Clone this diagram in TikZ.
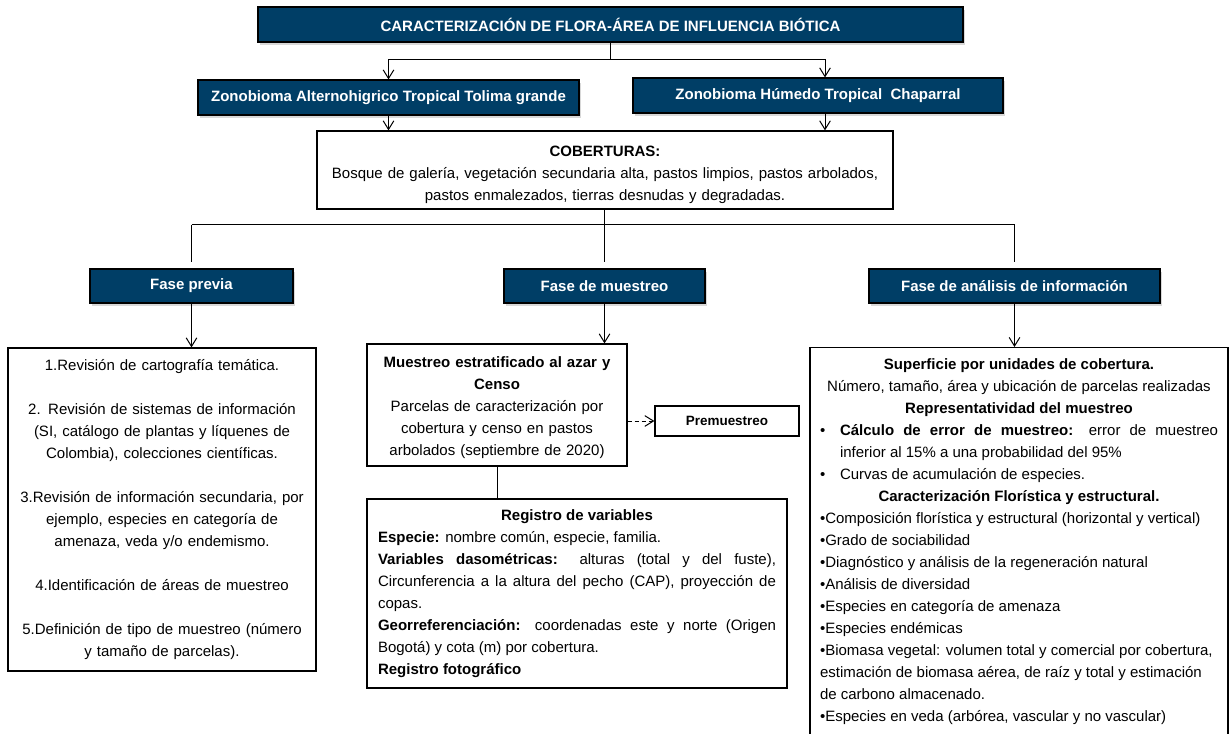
\documentclass[tikz,border=0pt]{standalone}
\usepackage{fontspec}
\setmainfont{Liberation Sans}
\usetikzlibrary{arrows.meta,shadows}
\definecolor{hb}{RGB}{0,62,102}
\newdimen\px \px=0.75pt
\newcommand{\diagfont}{\fontsize{11.25pt}{16.5pt}\selectfont}
\newcommand{\smallbfont}{\fontsize{10.1pt}{12pt}\selectfont\bfseries}

\begin{document}
\begin{tikzpicture}[x=1\px, y=-1\px,
  hdr/.style={draw=black, line width=0.8pt, fill=hb, text=white, font=\diagfont\bfseries, inner sep=0pt, drop shadow={shadow xshift=1.5pt, shadow yshift=-2pt, opacity=0.3}},
  box/.style={draw=black, line width=0.9pt, fill=white, font=\diagfont, inner sep=0pt, align=center, execute at begin node={\parindent=0pt\parskip=0pt}},
  arrow/.style={-{Straight Barb[length=6.5pt, width=8pt]}, line width=0.75pt},
  link/.style={line width=0.75pt},
  gap/.style={shorten >=6\px}
]
\path[use as bounding box, fill=white] (0,0) rectangle (1230,734);
% Title and the two zonobiomas
\node[hdr, minimum width=705\px, minimum height=35\px] (title) at (610.5,24.5) {CARACTERIZACIÓN DE FLORA-ÁREA DE INFLUENCIA BIÓTICA};
\node[hdr, minimum width=381\px, minimum height=35\px] (zl) at (388.5,97.5) {Zonobioma Alternohigrico Tropical Tolima grande};
\node[hdr, minimum width=370\px, minimum height=35\px] (zr) at (818,95.5) {Zonobioma Húmedo Tropical\ \ Chaparral};
\coordinate (tsplit) at (610.5,60);
\draw[link] (title.south) -- (tsplit);
\draw[arrow] (tsplit) -| (zl.north);
\draw[arrow] (tsplit) -| ([xshift=7\px]zr.north);
% Coberturas
\node[box, minimum width=576\px, minimum height=78\px, text width=566\px] (cob) at (605,170) {\rule{0pt}{21\px}\textbf{COBERTURAS:}\\ Bosque de galería, vegetación secundaria alta, pastos limpios, pastos arbolados,\\ pastos enmalezados, tierras desnudas y degradadas.};
\draw[arrow] (zl.south) -- (zl.south |- cob.north);
\draw[arrow] ([xshift=7\px]zr.south) -- ([xshift=7\px]zr.south |- cob.north);
% Three phases
\node[hdr, minimum width=203\px, minimum height=34\px] (fp) at (191.5,286) {Fase previa};
\node[hdr, minimum width=201\px, minimum height=34\px] (fm) at (604.5,286) {Fase de muestreo};
\node[hdr, minimum width=291\px, minimum height=34\px] (fa) at (1014.5,286) {Fase de análisis de información};
\coordinate (split) at (604.5,225);
\draw[link] (fp.north |- split) -- (fa.north |- split);
\draw[link, gap] (cob.south -| fm.north) -- (fm.north);
\draw[link, gap] (fp.north |- split) -- (fp.north);
\draw[link, gap] (fa.north |- split) -- (fa.north);
% Fase previa
\node[box, minimum width=308\px, minimum height=323\px, text width=300\px] (prev) at (162,509.5) {1.Revisión de cartografía temática.\\[22\px]
  2. Revisión de sistemas de información\\ (SI, catálogo de plantas y líquenes de\\ Colombia), colecciones científicas.\\[22\px]
  3.Revisión de información secundaria, por\\ ejemplo, especies en categoría de\\ amenaza, veda y/o endemismo.\\[22\px]
  4.Identificación de áreas de muestreo\\[22\px]
  5.Definición de tipo de muestreo (número\\ y tamaño de parcelas).};
\draw[arrow] (fp.south) -- (fp.south |- prev.north);
% Fase de muestreo
\node[box, minimum width=260\px, minimum height=122\px, text width=250\px] (mue) at (497,405) {\rule{0pt}{17\px}\textbf{Muestreo estratificado al azar y}\\ \textbf{Censo}\\ Parcelas de caracterización por\\ cobertura y censo en pastos\\ arbolados (septiembre de 2020)};
\node[box, minimum width=144\px, minimum height=30\px, font=\smallbfont] (pre) at (727,421) {Premuestreo};
\node[box, align=justify, minimum width=420\px, minimum height=189\px, text width=398\px] (reg) at (577,593.5) {{\centering\bfseries Registro de variables\par}
  \textbf{Especie:} nombre común, especie, familia.\par
  \textbf{Variables dasométricas:} alturas (total y del fuste),\linebreak Circunferencia a la altura del pecho (CAP), proyección de\linebreak copas.\par
  \textbf{Georreferenciación:} coordenadas este y norte (Origen\linebreak Bogotá) y cota (m) por cobertura.\par
  \textbf{Registro fotográfico}};
\draw[arrow] (fm.south) -- (fm.south |- mue.north);
\draw[arrow, dashed, dash pattern=on 4\px off 3\px] (mue.east |- pre.west) -- (pre.west);
\draw[link] (mue.south) -- (mue.south |- reg.north);
% Fase de analisis
\node[box, anchor=north, align=justify, minimum width=418\px, inner ysep=11.5\px, text width=398\px] (ana) at (1019,347) {{\centering\bfseries Superficie por unidades de cobertura.\par}
  {\centering Número, tamaño, área y ubicación de parcelas realizadas\par}
  {\centering\bfseries Representatividad del muestreo\par}
  \hangindent=20\px\hangafter=1\noindent\hbox to 20\px{\textbullet\hfil}\textbf{Cálculo de error de muestreo:} error de muestreo\linebreak inferior al 15\% a una probabilidad del 95\%\par
  \noindent\hbox to 20\px{\textbullet\hfil}Curvas de acumulación de especies.\par
  {\centering\bfseries Caracterización Florística y estructural.\par}
  {\raggedright\textbullet Composición florística y estructural (horizontal y vertical)\\
  \textbullet Grado de sociabilidad\\
  \textbullet Diagnóstico y análisis de la regeneración natural\\
  \textbullet Análisis de diversidad\\
  \textbullet Especies en categoría de amenaza\\
  \textbullet Especies endémicas\\
  \textbullet Biomasa vegetal: volumen total y comercial por cobertura,\\
  estimación de biomasa aérea, de raíz y total y estimación\\
  de carbono almacenado.\\
  \textbullet Especies en veda (arbórea, vascular y no vascular)\par}};
\draw[arrow] (fa.south) -- (fa.south |- ana.north);
\end{tikzpicture}
\end{document}
